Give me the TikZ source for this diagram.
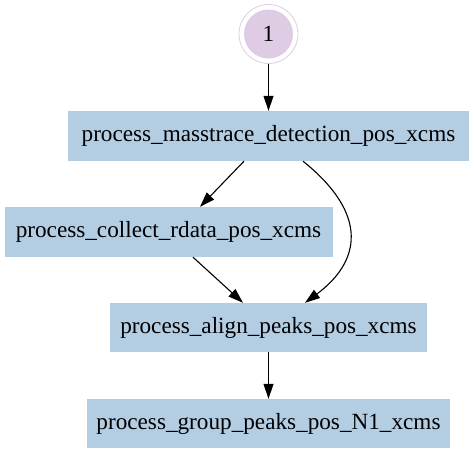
\documentclass[tikz,border=0pt]{standalone}
\usepackage{fontspec}
\setmainfont{Liberation Serif}
\usetikzlibrary{arrows.meta}
\definecolor{boxfill}{HTML}{B3CDE3}
\definecolor{circfill}{HTML}{DECBE4}
\tikzset{
  procbox/.style={rectangle, fill=boxfill, inner sep=0pt, font=\fontsize{23.2}{27}\selectfont},
  startnode/.style={circle, draw=circfill, line width=0.8pt, minimum size=59pt, inner sep=0pt,
    font=\fontsize{23.2}{27}\selectfont,
    path picture={\fill[circfill] (path picture bounding box.center) circle (24.5pt);}},
  flow/.style={draw=black, line width=1.1pt, -{Triangle[length=15pt,width=10pt]}}
}
\begin{document}
\begin{tikzpicture}[x=1pt,y=-1pt]
\useasboundingbox (0,0) rectangle (474,453);
\node[startnode] (c) at (268.5,34) {1};
\node[procbox, minimum width=401pt, minimum height=50pt] (n1) at (268.5,136) {process\_masstrace\_detection\_pos\_xcms};
\node[procbox, minimum width=328pt, minimum height=50pt] (n2) at (168.5,232) {process\_collect\_rdata\_pos\_xcms};
\node[procbox, minimum width=317pt, minimum height=49pt] (n3) at (268.5,327.5) {process\_align\_peaks\_pos\_xcms};
\node[procbox, minimum width=363pt, minimum height=49pt] (n4) at (268.5,423.5) {process\_group\_peaks\_pos\_N1\_xcms};
\draw[flow] (c) -- (n1);
\draw[flow] ([xshift=-24.5pt]n1.south) -- ([xshift=31.5pt]n2.north);
\draw[flow] ([xshift=34.5pt]n1.south) .. controls (370,215) and (360,262) .. ([xshift=36.5pt]n3.north);
\draw[flow] ([xshift=24.5pt]n2.south) -- ([xshift=-25.5pt]n3.north);
\draw[flow] (n3) -- (n4);
\end{tikzpicture}
\end{document}
